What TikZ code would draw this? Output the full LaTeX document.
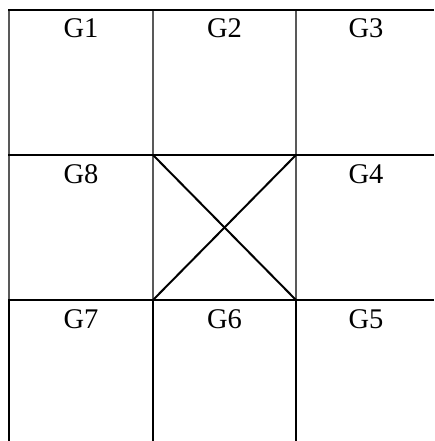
\documentclass[tikz,border=0pt]{standalone}
\usepackage{fontspec}
\setmainfont{Liberation Serif}
\begin{document}
\begin{tikzpicture}[x=1pt,y=1pt,
  hline/.style={line width=2pt,black},
  vgray/.style={line width=2pt,color=black!65},
  vblack/.style={line width=2pt,black},
  cross/.style={line width=2pt,black},
  lbl/.style={anchor=base,inner sep=0pt,font=\fontsize{28.5}{34}\selectfont}]
\useasboundingbox (0,0) rectangle (434,441);
\fill[white] (0,0) rectangle (434,441);
% coordinates
\coordinate (a1) at (9,431);
\coordinate (a2) at (153,431);
\coordinate (a3) at (296,431);
\coordinate (b1) at (9,286);
\coordinate (b2) at (153,286);
\coordinate (b3) at (296,286);
\coordinate (c1) at (9,141);
\coordinate (c2) at (153,141);
\coordinate (c3) at (296,141);
\coordinate (d1) at (9,0);
\coordinate (d2) at (153,0);
\coordinate (d3) at (296,0);
\coordinate (ra) at (434,431);
\coordinate (rb) at (434,286);
\coordinate (rc) at (434,141);
% vertical lines
\draw[vgray] (a1) -- (c1);
\draw[vgray] (a2) -- (c2);
\draw[vgray] (a3) -- (c3);
\draw[vblack] (c1) -- (d1);
\draw[vblack] (c2) -- (d2);
\draw[vblack] (c3) -- (d3);
% cross
\draw[cross] (b2) -- (c3);
\draw[cross] (c2) -- (b3);
% horizontal lines
\draw[hline] ([xshift=-1pt]a1) -- (ra);
\draw[hline] ([xshift=-1pt]b1) -- (rb);
\draw[hline] ([xshift=-1pt]c1) -- (rc);
% labels
\node[lbl] (g1) at (81,403) {G1};
\node[lbl] (g2) at (224.5,403) {G2};
\node[lbl] (g3) at (366,403) {G3};
\node[lbl] (g8) at (81,257) {G8};
\node[lbl] (g4) at (366,257) {G4};
\node[lbl] (g7) at (81,112) {G7};
\node[lbl] (g6) at (224.5,112) {G6};
\node[lbl] (g5) at (366,112) {G5};
\end{tikzpicture}
\end{document}
